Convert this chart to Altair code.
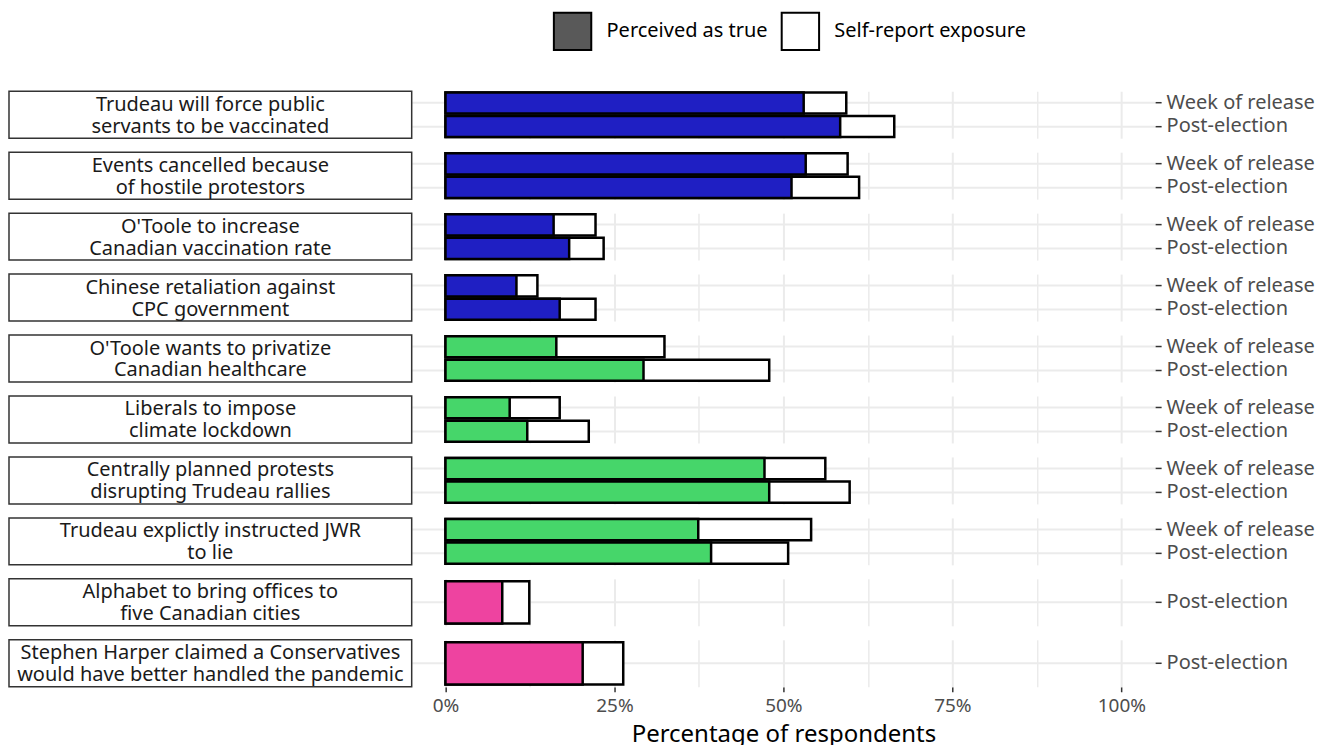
import altair as alt
import pandas as pd

topics = [
    "Trudeau will force public\nservants to be vaccinated",
    "Events cancelled because\nof hostile protestors",
    "O'Toole to increase\nCanadian vaccination rate",
    "Chinese retaliation against\nCPC government",
    "O'Toole wants to privatize\nCanadian healthcare",
    "Liberals to impose\nclimate lockdown",
    "Centrally planned protests\ndisrupting Trudeau rallies",
    "Trudeau explictly instructed JWR\nto lie",
    "Alphabet to bring offices to\nfive Canadian cities",
    "Stephen Harper claimed a Conservatives\nwould have better handled the pandemic",
]
groups = ["blue", "blue", "blue", "blue", "green", "green", "green", "green", "pink", "pink"]
group_colors = {"blue": "#1F1FC3", "green": "#46D66A", "pink": "#EE43A0"}

# Week of release (None = not surveyed)
week_true = [53.0, 53.3, 16.0, 10.5, 16.4, 9.5, 47.2, 37.4, None, None]
week_exposure = [59.3, 59.5, 22.2, 13.6, 32.4, 16.9, 56.2, 54.1, None, None]
# Post-election
post_true = [58.4, 51.2, 18.3, 16.9, 29.3, 12.1, 47.9, 39.3, 8.4, 20.3]
post_exposure = [66.4, 61.2, 23.4, 22.2, 47.9, 21.2, 59.8, 50.7, 12.4, 26.3]

waves = ["Week of release", "Post-election"]
measures = ["Perceived as true", "Self-report exposure"]

rows = []
for i, t in enumerate(topics):
    first = True
    for w, tv, ev in [(waves[0], week_true[i], week_exposure[i]), (waves[1], post_true[i], post_exposure[i])]:
        if tv is None:
            continue
        rows.append({
            "topic": t, "wave": w, "true": tv, "exposure": ev,
            "color": group_colors[groups[i]], "measure": measures[1],
            "first": first,
        })
        first = False
df = pd.DataFrame(rows)

FONT = "Noto Sans"
H = 47
W = 744
LH = 22
ticks = [0, 12.5, 25, 37.5, 50, 62.5, 75, 87.5, 100]

xaxis = alt.Axis(
    values=ticks,
    labelExpr="datum.value % 25 === 0 ? datum.value + '%' : ''",
    title="Percentage of respondents",
    titleFontSize=24, titleFontWeight="normal", titleColor="black", titleFont=FONT,
    labelFontSize=19, labelColor="#4d4d4d", labelFont=FONT, labelPadding=5,
    domain=False, grid=True, gridColor="#ebebeb",
    gridWidth={"condition": {"test": "datum.value % 25 === 0", "value": 2}, "value": 1.5},
    tickOpacity={"condition": {"test": "datum.value % 25 === 0", "value": 1}, "value": 0},
    tickColor="#333333", tickSize=5, tickWidth=1.5, titlePadding=7,
)
xscale = alt.Scale(domain=[-5, 105], nice=False, zero=False)
yenc = alt.Y(
    "wave:N", sort=waves,
    scale=alt.Scale(paddingInner=0.1, paddingOuter=0.05),
    axis=alt.Axis(
        orient="right", title=None, domain=False, grid=True, gridColor="#ebebeb", gridWidth=2,
        labelFontSize=20, labelColor="#4d4d4d", labelFont=FONT, labelPadding=5,
        tickColor="#333333", tickSize=6, tickWidth=1.5, labelLimit=0,
    ),
)

exposure = alt.Chart().mark_bar(stroke="black", strokeWidth=2.5).encode(
    x=alt.X("exposure:Q", scale=xscale, axis=xaxis),
    x2=alt.datum(0),
    y=yenc,
    fill=alt.Fill(
        "measure:N",
        scale=alt.Scale(domain=measures, range=["#595959", "white"]),
        legend=alt.Legend(
            title=None, orient="none", direction="horizontal",
            legendX=141, legendY=-80,
            symbolType="square", symbolSize=1400, symbolStrokeColor="black",
            symbolStrokeWidth=2, labelFontSize=20, labelColor="black", labelFont=FONT,
            labelOffset=14, columnPadding=9, labelLimit=0,
        ),
    ),
)
true_bar = alt.Chart().mark_bar(stroke="black", strokeWidth=2.5).encode(
    x=alt.X("true:Q", scale=xscale, axis=xaxis),
    x2=alt.datum(0),
    y=yenc,
    color=alt.Color("color:N", scale=None),
)
box = alt.Chart().mark_rect(fill="white", stroke="#333333", strokeWidth=1.5).encode(
    x=alt.value(-403), x2=alt.value(0), y=alt.value(0), y2=alt.value(H),
).transform_filter("datum.first")
label = alt.Chart().mark_text(
    align="center", baseline="middle", lineBreak="\n", fontSize=20, lineHeight=LH,
    font=FONT, color="#1a1a1a",
).encode(
    text="topic:N", x=alt.value(-201.5), y=alt.value(H / 2 - LH / 2 + 1),
).transform_filter("datum.first")

chart = alt.layer(box, label, exposure, true_bar, data=df).properties(
    width=W, height=H,
).facet(
    row=alt.Row("topic:N", sort=topics, header=alt.Header(labels=False, title=None), title=None),
    spacing=14,
    bounds="flush",
).resolve_scale(y="independent").properties(
    padding={"left": 0, "top": 3, "right": 5, "bottom": 5},
).configure_view(stroke=None)

chart.save("out.html", embed_options={"renderer": "svg", "actions": False})
